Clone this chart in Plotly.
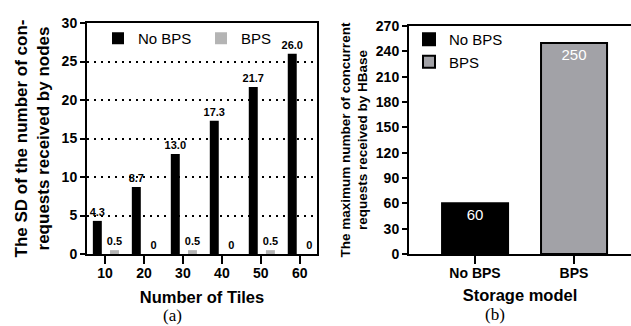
import plotly.graph_objects as go

# ---------------- data ----------------
tiles = ["10", "20", "30", "40", "50", "60"]
sd_no_bps = [4.3, 8.7, 13.0, 17.3, 21.7, 26.0]
sd_bps = [0.5, 0, 0.5, 0, 0.5, 0]

storage_models = ["No BPS", "BPS"]
max_concurrent = [60, 250]

W, H = 631, 326


def px_x(x):
    return x / W


def px_y(y):
    return 1 - y / H


FONT = "Liberation Sans, Arial, sans-serif"
BOLD = "Liberation Sans, Arial, sans-serif"

fig = go.Figure()

# ---- panel (a) ----
fig.add_trace(go.Bar(
    x=tiles, y=sd_no_bps, name="No BPS",
    marker=dict(color="#000000", line=dict(width=0)),
    width=0.23, offset=-0.31,
    text=[f"{v:.1f}" for v in sd_no_bps], textposition="outside", constraintext="none",
    textfont=dict(family=BOLD, size=11, color="#000", weight="bold"),
    cliponaxis=False, xaxis="x", yaxis="y", legend="legend",
))
fig.add_trace(go.Bar(
    x=tiles, y=sd_bps, name="BPS",
    marker=dict(color="#b4b4b4", line=dict(width=0)),
    width=0.23, offset=0.13,
    text=[f"{v:g}" for v in sd_bps], textposition="outside", constraintext="none",
    textfont=dict(family=BOLD, size=11, color="#000", weight="bold"),
    cliponaxis=False, xaxis="x", yaxis="y", legend="legend",
))

# ---- panel (b) ----
fig.add_trace(go.Bar(
    x=[storage_models[0]], y=[max_concurrent[0]], name="No BPS",
    marker=dict(color="#000000", line=dict(width=2, color="#000")),
    width=0.667, offset=-0.333,
    text=[str(max_concurrent[0])], textposition="inside", insidetextanchor="end",
    constraintext="none",
    textangle=0, textfont=dict(family=FONT, size=15, color="#ffffff"),
    xaxis="x2", yaxis="y2", legend="legend2",
))
fig.add_trace(go.Bar(
    x=[storage_models[1]], y=[max_concurrent[1]], name="BPS",
    marker=dict(color="#a2a2a7", line=dict(width=2, color="#000")),
    width=0.667, offset=-0.333,
    text=[str(max_concurrent[1])], textposition="inside", insidetextanchor="end",
    constraintext="none",
    textangle=0, textfont=dict(family=FONT, size=15, color="#ffffff"),
    xaxis="x2", yaxis="y2", legend="legend2",
))

axis_common = dict(showline=True, linecolor="#000", linewidth=2,
                   ticks="outside", tickcolor="#000", tickwidth=2,
                   tickfont=dict(family=BOLD, size=14, color="#000", weight="bold"),
                   zeroline=False, automargin=False)

fig.update_layout(
    width=W, height=H,
    margin=dict(l=0, r=0, t=0, b=0, autoexpand=False),
    paper_bgcolor="white", plot_bgcolor="white",
    barmode="group",
    font=dict(family=FONT, color="#000"),
    xaxis=dict(**axis_common, domain=[px_x(87), px_x(317)], anchor="y",
               type="category", range=[-0.46, 5.44], ticklen=8, mirror=True,
               showgrid=False, ticklabelstandoff=-3,
               title=dict(text="Number of Tiles", standoff=12,
                          font=dict(family=BOLD, size=16.5, weight="bold"))),
    yaxis=dict(**axis_common, domain=[px_y(254), px_y(23)], anchor="x",
               range=[0, 30], dtick=5, ticklen=5, mirror=True,
               showgrid=True, gridcolor="#000", gridwidth=2, griddash="2px,5px",
               title=dict(text="The SD of the number of con-<br>requests received by nodes",
                          standoff=8,
                          font=dict(family=BOLD, size=17, weight="bold"))),
    xaxis2=dict(**axis_common, domain=[px_x(409), 1.0], anchor="y2",
                type="category", range=[-0.667, 1.576], ticklen=8, mirror=True,
                showgrid=False, ticklabelstandoff=-3,
                title=dict(text="Storage model", standoff=10,
                           font=dict(family=BOLD, size=16.5, weight="bold"))),
    yaxis2=dict(**axis_common, domain=[px_y(254), px_y(26)], anchor="x2",
                range=[0, 270], dtick=30, ticklen=5, showgrid=False,
                title=dict(text="The maximum number of concurrent<br>requests received by HBase",
                           standoff=5,
                           font=dict(family=BOLD, size=13.5, weight="bold"))),
    legend=dict(orientation="h", x=px_x(98), y=px_y(22), xanchor="left", yanchor="top",
                font=dict(family=FONT, size=15, color="#000"),
                bgcolor="rgba(0,0,0,0)", entrywidth=58, traceorder="normal"),
    legend2=dict(orientation="v", x=px_x(409), y=px_y(23), xanchor="left", yanchor="top",
                 font=dict(family=FONT, size=15, color="#000"),
                 bgcolor="rgba(0,0,0,0)", traceorder="normal", tracegroupgap=0),
    annotations=[
        dict(text="(a)", x=px_x(172), y=px_y(315), xref="paper", yref="paper",
             xanchor="center", yanchor="middle",
             showarrow=False, font=dict(family="Liberation Serif, Times New Roman, serif", size=17)),
        dict(text="(b)", x=px_x(495), y=px_y(314), xref="paper", yref="paper",
             xanchor="center", yanchor="middle",
             showarrow=False, font=dict(family="Liberation Serif, Times New Roman, serif", size=17)),
    ],
)

fig.write_html("out.html", config={"displayModeBar": False},
               post_script="document.body.style.margin='0';document.body.style.overflow='hidden';")
